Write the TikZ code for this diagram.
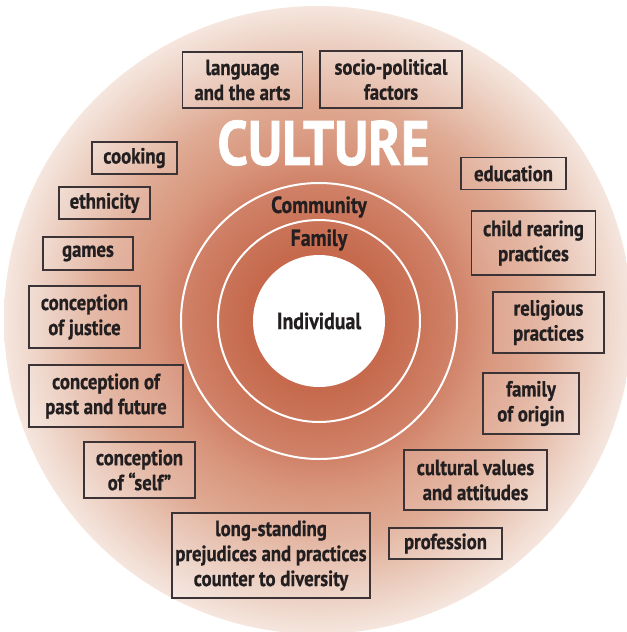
\documentclass[tikz,border=0pt]{standalone}
\usepackage{fontspec}
\setmainfont{PT Sans}
\newfontfamily\boxfont[FakeStretch=0.85,FakeBold=0.7]{PT Sans}
\newfontfamily\titlefont[FakeStretch=0.87,FakeBold=1.2]{PT Sans}

\definecolor{cult0}{HTML}{C05C40}
\definecolor{cult1}{HTML}{C5674A}
\definecolor{cult2}{HTML}{CA7459}
\definecolor{cult3}{HTML}{D08268}
\definecolor{cult4}{HTML}{D8957C}
\definecolor{cult5}{HTML}{DFAA93}
\definecolor{cult6}{HTML}{ECCFC1}
\definecolor{cult7}{HTML}{F5E6DE}
\definecolor{boxline}{HTML}{3B3335}
\definecolor{textdark}{HTML}{231F20}

\pgfdeclareradialshading{culture}{\pgfpoint{0bp}{0bp}}{color(0bp)=(cult0); color(5bp)=(cult1); color(8bp)=(cult2); color(11bp)=(cult3); color(13.5bp)=(cult4); color(17.5bp)=(cult5); color(22bp)=(cult6); color(25bp)=(cult7); color(50bp)=(cult7)}

\tikzset{every picture/.style={line width=0.75pt}}
\tikzset{
  factor/.style={draw=boxline, line width=1pt, fill=white, fill opacity=0.15, text opacity=1, text=textdark, align=center, inner sep=0pt, font={\boxfont\bfseries\fontsize{16.5pt}{18.75pt}\selectfont}},
  ring/.style={circle, draw=white, line width=1.5pt, inner sep=0pt},
  ringlabel/.style={text=textdark, font={\boxfont\bfseries\fontsize{17.5pt}{20pt}\selectfont}}
}

\begin{document}
\begin{tikzpicture}[x=0.75pt,y=0.75pt,yscale=-1,xscale=1]
\useasboundingbox (0,0) rectangle (626,632); %diagram is 626 wide and 632 high

% Background disc
\shade[shading=culture] (318,320) circle [radius=314];

% Rings
\node[ring, minimum size=207pt] (community) at (319,321) {};
\node[ring, minimum size=151.5pt] (family) at (319,321) {};
\node[ring, ringlabel, fill=white, draw=none, minimum size=99pt] (individual) at (319,321) {Individual};
\node[ringlabel] (communitylabel) at (319,207) {Community};
\node[ringlabel] (familylabel) at (319,240) {Family};

% Title
\node[text=white, font={\titlefont\bfseries\fontsize{47pt}{50pt}\selectfont}] (culture) at (323.5,143) {CULTURE};

% Text Node
\node[factor, minimum width=90pt, minimum height=42pt] (language) at (242.5,80) {language\\and the arts};
% Text Node
\node[factor, minimum width=106.5pt, minimum height=42.75pt] (socio) at (391,79.5) {socio-political\\factors};
% Text Node
\node[factor, minimum width=63.75pt, minimum height=24pt] (cooking) at (134.5,158) {cooking};
% Text Node
\node[factor, minimum width=68.25pt, minimum height=24pt] (ethnicity) at (104.5,203) {ethnicity};
% Text Node
\node[factor, minimum width=67.5pt, minimum height=24.75pt] (games) at (88,253.5) {games};
% Text Node
\node[factor, minimum width=83.25pt, minimum height=46.5pt] (justice) at (84.5,317) {conception\\of justice};
% Text Node
\node[factor, minimum width=115.5pt, minimum height=46.5pt] (pastfuture) at (106,396) {conception of\\past and future};
% Text Node
\node[factor, minimum width=83.25pt, minimum height=42pt] (self) at (139.5,470) {conception\\of “self”};
% Text Node
\node[factor, minimum width=148.5pt, minimum height=63.75pt] (prejudice) at (271,555.5) {long-standing\\prejudices and practices\\counter to diversity};
% Text Node
\node[factor, minimum width=84.75pt, minimum height=23.25pt] (profession) at (445.5,543.5) {profession};
% Text Node
\node[factor, minimum width=107.25pt, minimum height=45pt] (values) at (475.5,480) {cultural values\\and attitudes};
% Text Node
\node[factor, minimum width=72pt, minimum height=45.75pt] (origin) at (531,403.5) {family\\of origin};
% Text Node
\node[factor, minimum width=83.25pt, minimum height=45.75pt] (religious) at (548.5,322.5) {religious\\practices};
% Text Node
\node[factor, minimum width=93pt, minimum height=48pt] (childrearing) at (533.5,243) {child rearing\\practices};
% Text Node
\node[factor, minimum width=78.75pt, minimum height=24pt] (education) at (513.5,173.5) {education};

\end{tikzpicture}
\end{document}
